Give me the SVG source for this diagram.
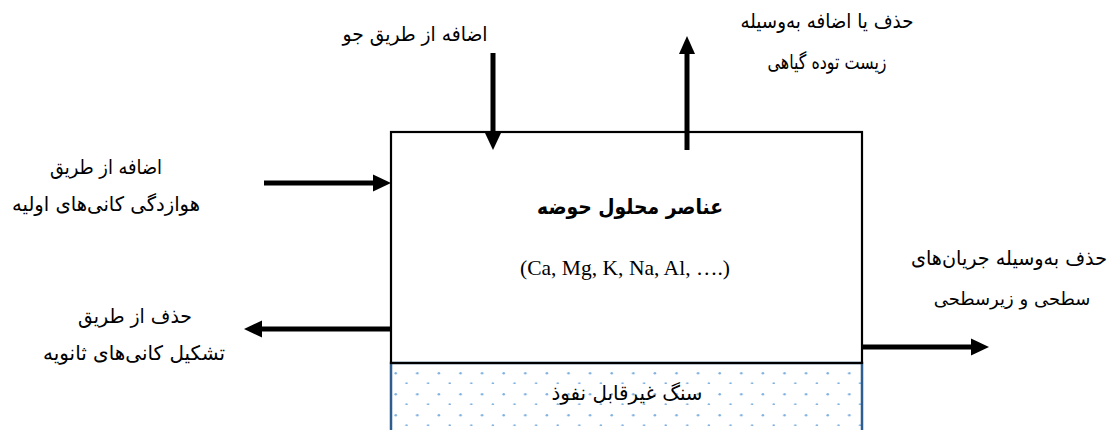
<svg xmlns="http://www.w3.org/2000/svg" width="1116" height="430" viewBox="0 0 1116 430">
<style>
.fa{font-family:"DejaVu Sans","Noto Sans",sans-serif;font-size:20px;fill:#000;text-anchor:middle}
.title{font-family:"DejaVu Sans","Noto Sans",sans-serif;font-size:21px;font-weight:bold;fill:#000;text-anchor:middle}
.lat{font-family:"Liberation Serif",serif;font-size:21px;fill:#000;text-anchor:middle}
.conn{stroke:#000;stroke-width:5;fill:none}
.head{fill:#000}
</style>
<defs>
<pattern id="dots" patternUnits="userSpaceOnUse" x="391" y="363" width="21.6" height="21">
<circle cx="4.7" cy="10.3" r="1.3" fill="#7fb0e0"/>
<circle cx="15.5" cy="20.4" r="1.2" fill="#7fb0e0"/>
</pattern>
</defs>
<rect width="1116" height="430" fill="#fff"/>
<g id="rock">
<rect x="391" y="363" width="471" height="80" fill="url(#dots)" stroke="#2f5d8e" stroke-width="2.5"/>
<text class="fa" x="627" y="400" textLength="151" lengthAdjust="spacingAndGlyphs">سنگ غیرقابل نفوذ</text>
</g>
<g id="basin">
<rect x="391" y="132" width="471" height="231" fill="none" stroke="#000" stroke-width="2.2"/>
<text class="title" x="630" y="214" textLength="186" lengthAdjust="spacingAndGlyphs">عناصر محلول حوضه</text>
<text class="lat" x="625" y="275" textLength="210" lengthAdjust="spacingAndGlyphs">(Ca, Mg, K, Na, Al, ….)</text>
</g>
<g id="connectors">
<line class="conn" x1="493" y1="53" x2="493" y2="135"/>
<polygon class="head" points="485,133 501,133 493,150"/>
<line class="conn" x1="687" y1="150" x2="687" y2="52"/>
<polygon class="head" points="679,54 695,54 687,36"/>
<line class="conn" x1="264" y1="183" x2="375" y2="183"/>
<polygon class="head" points="373,174.5 373,191.5 391,183"/>
<line class="conn" x1="391" y1="329" x2="260" y2="329"/>
<polygon class="head" points="262,320.5 262,337.5 244,329"/>
<line class="conn" x1="862" y1="347" x2="973" y2="347"/>
<polygon class="head" points="971,338.5 971,355.5 989,347"/>
</g>
<g id="label-atmosphere">
<text class="fa" x="415" y="41" textLength="145" lengthAdjust="spacingAndGlyphs">اضافه از طریق جو</text>
</g>
<g id="label-biomass">
<text class="fa" x="827" y="28" textLength="173" lengthAdjust="spacingAndGlyphs">حذف یا اضافه به‌وسیله</text>
<text class="fa" x="827" y="69" textLength="119" lengthAdjust="spacingAndGlyphs">زیست توده گیاهی</text>
</g>
<g id="label-weathering">
<text class="fa" x="106" y="174" textLength="112" lengthAdjust="spacingAndGlyphs">اضافه از طریق</text>
<text class="fa" x="106" y="211" textLength="188" lengthAdjust="spacingAndGlyphs">هوازدگی کانی‌های اولیه</text>
</g>
<g id="label-secondary">
<text class="fa" x="135" y="323" textLength="114" lengthAdjust="spacingAndGlyphs">حذف از طریق</text>
<text class="fa" x="134" y="360" textLength="182" lengthAdjust="spacingAndGlyphs">تشکیل کانی‌های ثانویه</text>
</g>
<g id="label-flow">
<text class="fa" x="1009" y="265" textLength="196" lengthAdjust="spacingAndGlyphs">حذف به‌وسیله جریان‌های</text>
<text class="fa" x="1012" y="305" style="font-size:18px">سطحی و زیرسطحی</text>
</g>
</svg>
